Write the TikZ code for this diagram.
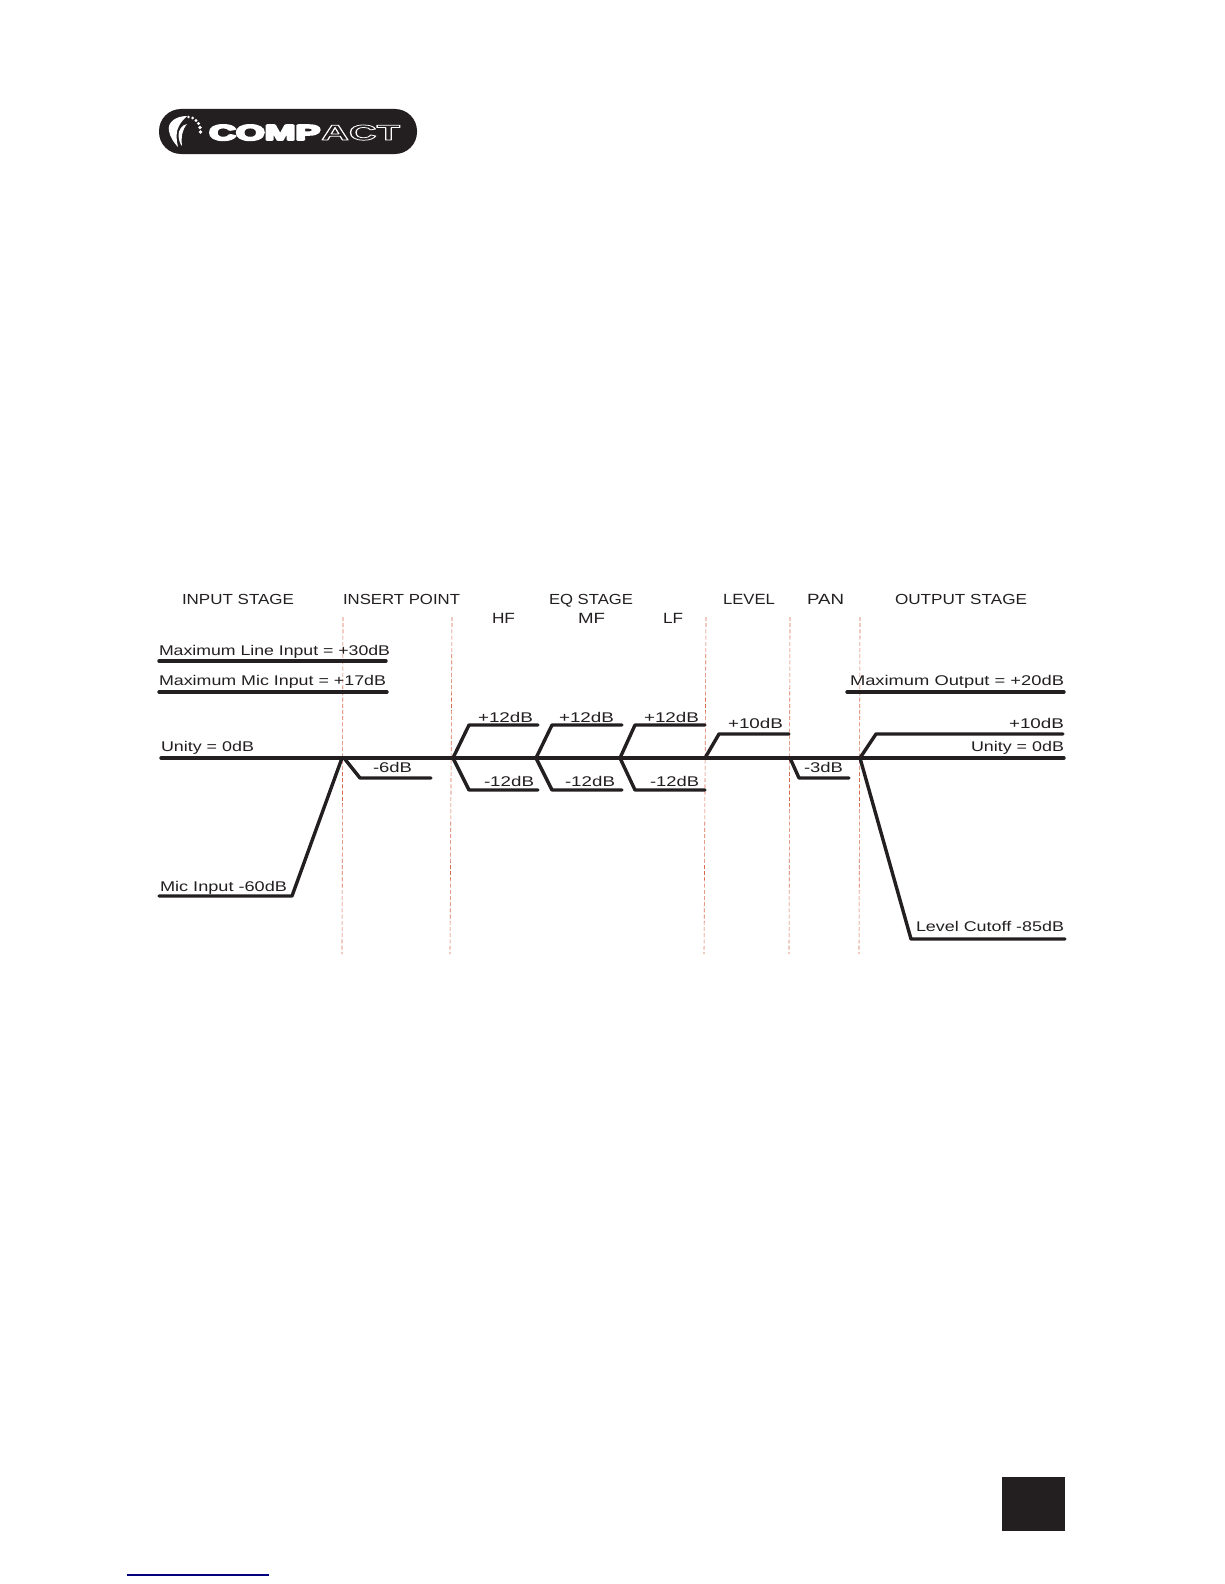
\documentclass[tikz,border=0pt]{standalone}
\usepackage{fontspec}
\usepackage{graphicx}
\setmainfont{Liberation Sans}
\newfontfamily\logofont{Liberation Sans}[BoldFont={Liberation Sans Bold}]
\definecolor{inkblack}{HTML}{231F20}
\definecolor{guidered}{HTML}{D8694F}
\definecolor{linkblue}{HTML}{000080}
\tikzset{
  level/.style={draw=inkblack,line width=3.4pt,line cap=round,line join=round},
  guide/.style={draw=guidered,line width=0.6pt,dash pattern=on 4pt off 2.2pt},
  lab/.style={anchor=base west,inner sep=0pt,outer sep=0pt,text=inkblack},
}
% \fitlab{name}{x left}{x right}{baseline y}{text}: real text fitted to the reference's extent
\newcommand{\fitlab}[5]{%
  \pgfmathsetlengthmacro{\fitw}{#3-#2}%
  \node[lab] (#1) at (#2,#4) {\resizebox{\fitw}{10.2pt}{#5}};}
\begin{document}
\begin{tikzpicture}[x=1pt,y=-1pt]
\useasboundingbox[fill=white] (0,0) rectangle (1224,1584);

% logo
\node[fill=inkblack,rounded corners=22pt,minimum width=258pt,minimum height=45pt,inner sep=0pt] (logo) at (288,131.5) {};
\fill[white] (187,116) .. controls (175,116) and (167,123) .. (169,131) .. controls (170,137) and (174,143) .. (178,147) .. controls (176,138) and (176,131) .. (179,126) .. controls (181,122) and (184,119) .. (187,116) -- cycle;
\fill[white] (187,124) .. controls (182,125) and (178,130) .. (178.5,136) .. controls (179,140) and (180,144) .. (182,146) .. controls (181,137) and (182,130) .. (187,124) -- cycle;
\foreach \dx/\dy/\dr in {188.5/117/1.4,192.5/118/1.5,196/120.5/1.6,198.5/123.5/1.7,200/127.5/1.8,200.5/132/1.9}
  \fill[white] (\dx,\dy) circle[radius=\dr];
\node[anchor=base west,inner sep=0pt,text=white] (logocomp) at (209,140) {\resizebox{111pt}{15pt}{\special{pdf:code 2 Tr 0.9 w 1 j}\logofont\bfseries COMP\special{pdf:code 0 Tr 0 j}}};
\node[anchor=base west,inner sep=0pt,text=white] (logoact) at (321,140) {\resizebox{79pt}{15pt}{\special{pdf:code 1 Tr 0.35 w 1 j}\logofont\bfseries ACT\special{pdf:code 0 Tr 0 j}}};

% stage boundaries
\coordinate (g1t) at (343,617); \coordinate (g1b) at (342,954);
\coordinate (g2t) at (452,617); \coordinate (g2b) at (450,954);
\coordinate (g3t) at (706,617); \coordinate (g3b) at (704,954);
\coordinate (g4t) at (790,617); \coordinate (g4b) at (789,954);
\coordinate (g5t) at (860,617); \coordinate (g5b) at (859,954);
\foreach \g in {g1,g2,g3,g4,g5} \draw[guide] (\g t) -- (\g b);

% headings
\fitlab{hInput}{182}{294}{604}{INPUT STAGE}
\fitlab{hInsert}{343}{460}{604}{INSERT POINT}
\fitlab{hEq}{549}{633}{604}{EQ STAGE}
\fitlab{hLevel}{723}{775}{604}{LEVEL}
\fitlab{hPan}{807}{844}{604}{PAN}
\fitlab{hOutput}{895}{1027}{604}{OUTPUT STAGE}
\fitlab{hHF}{492}{515}{623}{HF}
\fitlab{hMF}{578}{605}{623}{MF}
\fitlab{hLF}{663}{683}{623}{LF}

% levels
\draw[level] (159,661) -- (386,661);
\draw[level] (159,692) -- (387,692);
\draw[level] (847,692) -- (1064,692);
\draw[level] (161,758) -- (1064,758);
\draw[level] (159,896) -- (292,896) -- (342,758);
\draw[level] (344,758) -- (360,778) -- (431,778);
\draw[level] (538,725) -- (469,725) -- (453,758) -- (469,790) -- (538,790);
\draw[level] (622,725) -- (552,725) -- (536,758) -- (552,790) -- (622,790);
\draw[level] (705,725) -- (635,725) -- (620,758) -- (635,790) -- (705,790);
\draw[level] (705,758) -- (719,734) -- (789,734);
\draw[level] (790,758) -- (799,778) -- (849,778);
\draw[level] (860,758) -- (876,734) -- (1063,734);
\draw[level] (860,758) -- (911,939) -- (1065,939);

% level labels
\fitlab{tLine}{159}{390}{655}{Maximum Line Input = +30dB}
\fitlab{tMic}{159}{386}{685}{Maximum Mic Input = +17dB}
\fitlab{tUnityL}{161}{254}{751}{Unity = 0dB}
\fitlab{tMicIn}{160}{287}{891}{Mic Input -60dB}
\fitlab{tSix}{373}{412}{772}{-6dB}
\fitlab{tHFp}{478}{533}{722}{+12dB}
\fitlab{tHFm}{484}{534}{786}{-12dB}
\fitlab{tMFp}{559}{614}{722}{+12dB}
\fitlab{tMFm}{565}{615}{786}{-12dB}
\fitlab{tLFp}{644}{699}{722}{+12dB}
\fitlab{tLFm}{650}{699}{786}{-12dB}
\fitlab{tLvl}{728}{783}{728}{+10dB}
\fitlab{tPan}{804}{843}{772}{-3dB}
\fitlab{tOut}{850}{1064}{685}{Maximum Output = +20dB}
\fitlab{tTen}{1009}{1064}{728}{+10dB}
\fitlab{tUnityR}{971}{1064}{751}{Unity = 0dB}
\fitlab{tCut}{916}{1064}{931}{Level Cutoff -85dB}

% page furniture
\fill[inkblack] (1002,1477) rectangle (1065,1531);
\draw[linkblue,line width=1.3pt] (127,1575) -- (269,1575);
\end{tikzpicture}
\end{document}
